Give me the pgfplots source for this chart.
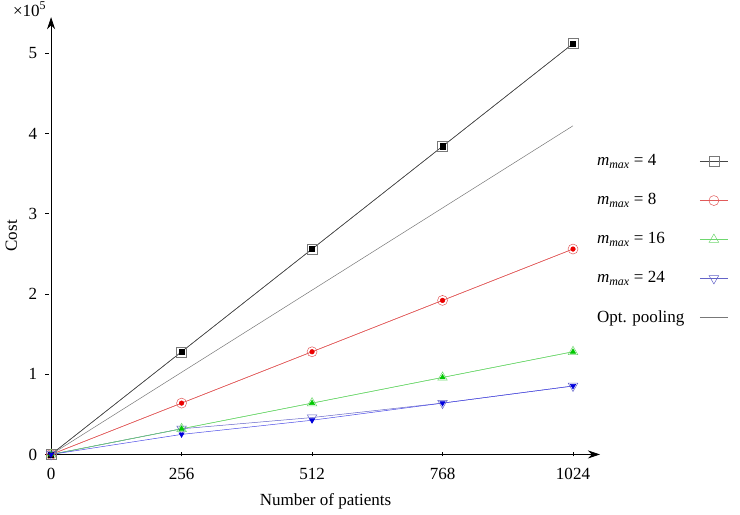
\documentclass[border=0pt]{standalone}
\usepackage{fontspec}
\setmainfont{Liberation Serif}
\usepackage{pgfplots}
\pgfplotsset{compat=1.18}
\usetikzlibrary{arrows.meta}
\definecolor{cgray}{RGB}{120,120,120}
\definecolor{cline}{RGB}{70,70,70}
\definecolor{cred}{RGB}{225,90,90}
\definecolor{cgreen}{RGB}{110,215,110}
\definecolor{cblue}{RGB}{100,100,200}
\definecolor{fred}{RGB}{235,0,0}
\definecolor{fgreen}{RGB}{0,200,0}
\definecolor{fblue}{RGB}{0,0,220}
\begin{document}
\fontsize{17}{20}\selectfont
\begin{tikzpicture}
\begin{axis}[
  scale only axis, width=546bp, height=435bp,
  xmin=0, xmax=1077, ymin=0, ymax=545000,
  axis lines=left,
  axis line style={line width=0.8pt, -{Stealth[length=12bp,width=8bp]}},
  xtick={0,256,512,768,1024},
  ytick={0,100000,200000,300000,400000,500000},
  yticklabels={0,1,2,3,4,5},
  scaled y ticks=false,
  /pgf/number format/assume math mode=true,
  /pgf/number format/1000 sep={},
  extra description/.code={
    \node[anchor=south east, inner sep=2pt, font=\fontsize{17}{20}\selectfont] at (rel axis cs:-0.005,0.997) {×10\textsuperscript{5}};
    \path (rel axis cs:1.255,0.5);
  },
  tick style={line width=0.6pt, black},
  major tick length=4bp,
  ytick style={xshift=-4bp},
  yticklabel style={xshift=-6bp},
  xticklabel style={yshift=-6bp},
  clip=false,
  font=\fontsize{17}{20}\selectfont,
  xlabel={Number of patients}, ylabel={Cost},
  xlabel style={yshift=-2bp},
  legend plot pos=right,
  legend cell align=left,
  legend image code/.code={\draw[mark repeat=2,mark phase=2,#1] plot coordinates {(0bp,0bp)(14bp,0bp)(28bp,0bp)};},
  legend style={draw=none, fill=none, at={(0.985,0.695)}, anchor=north west, row sep=21bp, font=\fontsize{17}{20}\selectfont, column sep=13bp},
  every axis plot/.append style={line width=0.5pt},
]
\addplot[color=cline, mark=square, mark size=5, mark options={draw=cgray, fill=white, solid}]
  coordinates {(0,0)(256,128000)(512,256000)(768,384000)(1024,512000)};
\addlegendentry{\textit{m}\textsubscript{\textit{max}} = 4}
\addplot[color=cred, mark=o, mark size=5, mark options={draw=cred, fill=white}]
  coordinates {(0,0)(256,64000)(512,128000)(768,192000)(1024,256000)};
\addlegendentry{\textit{m}\textsubscript{\textit{max}} = 8}
\addplot[color=cgreen, mark=triangle, mark size=5.5, mark options={draw=cgreen, fill=white}]
  coordinates {(0,0)(256,32000)(512,64000)(768,96000)(1024,128000)};
\addlegendentry{\textit{m}\textsubscript{\textit{max}} = 16}
\addplot[color=cblue, mark=triangle, mark size=5.5, mark options={draw=cblue, fill=white, rotate=180}]
  coordinates {(0,0)(256,32000)(512,46000)(768,64000)(1024,85333)};
\addlegendentry{\textit{m}\textsubscript{\textit{max}} = 24}
\addplot[color=cgray, no marks]
  coordinates {(0,0)(1024,409600)};
\addlegendentry{Opt. pooling}
\addplot[forget plot, color=cline, mark=square*, mark size=2.6, mark options={fill=black, draw=black}]
  coordinates {(0,0)(256,128000)(512,256000)(768,384000)(1024,512000)};
\addplot[forget plot, color=cred, mark=*, mark size=2.3, mark options={fill=fred, draw=fred}]
  coordinates {(0,0)(256,64000)(512,128000)(768,192000)(1024,256000)};
\addplot[forget plot, color=cgreen, mark=triangle*, mark size=3, mark options={fill=fgreen, draw=fgreen}]
  coordinates {(0,0)(256,32000)(512,64000)(768,96000)(1024,128000)};
\addplot[forget plot, color=fblue!70!white, mark=triangle*, mark size=3, mark options={fill=fblue, draw=fblue, rotate=180}]
  coordinates {(0,0)(256,25000)(512,42667)(768,64000)(1024,85333)};
\end{axis}
\end{tikzpicture}
\end{document}
